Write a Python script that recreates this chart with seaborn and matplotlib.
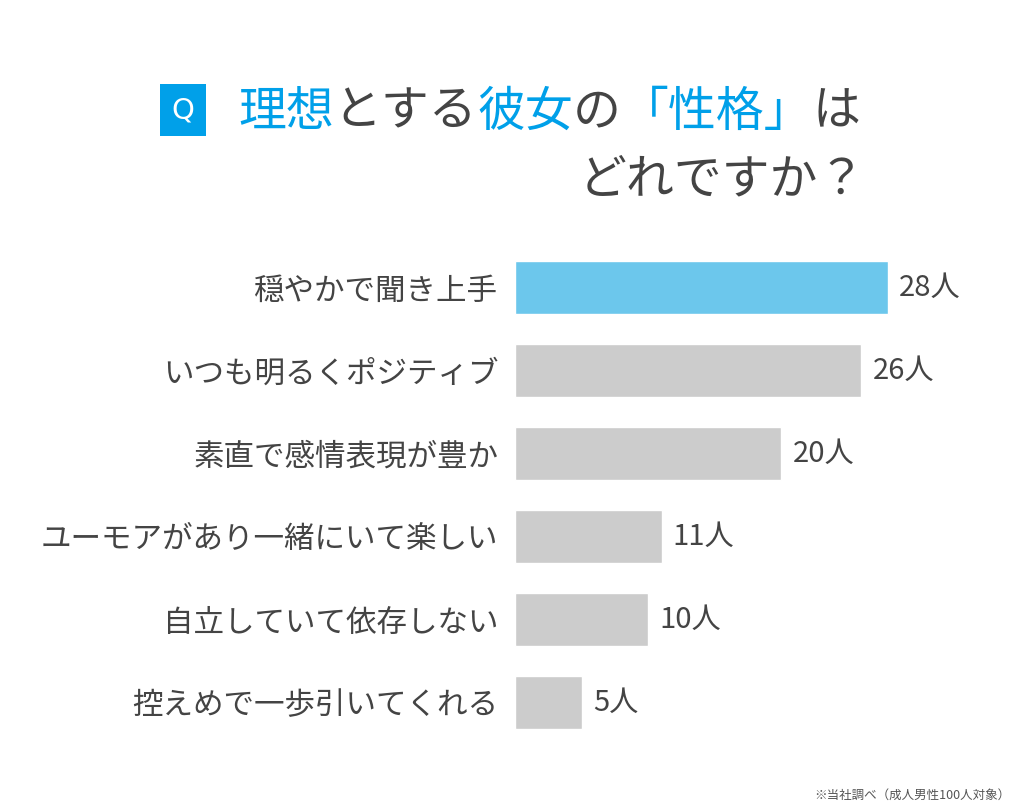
import seaborn as sns
import matplotlib.pyplot as plt
import matplotlib.patches as mpatches
import pandas as pd

# Survey data
traits = [
    "穏やかで聞き上手",
    "いつも明るくポジティブ",
    "素直で感情表現が豊か",
    "ユーモアがあり一緒にいて楽しい",
    "自立していて依存しない",
    "控えめで一歩引いてくれる",
]
counts = [28, 26, 20, 11, 10, 5]
value_labels = ["28人", "26人", "20人", "11人", "10人", "5人"]

title_parts = [("理想", "blue"), ("とする", "gray"), ("彼女", "blue"),
               ("の", "gray"), ("「性格」", "blue"), ("は", "gray")]
title_line2 = "どれですか？"
footnote = "※当社調べ（成人男性100人対象）"

BLUE = "#00A0E9"
BAR_BLUE = "#6CC7EC"
BAR_GRAY = "#CCCCCC"
TEXT = "#444444"

sns.set_theme(style="white")
plt.rcParams["font.family"] = ["Noto Sans CJK JP", "DejaVu Sans"]

df = pd.DataFrame({"trait": traits, "count": counts})
palette = [BAR_BLUE] + [BAR_GRAY] * (len(traits) - 1)

fig = plt.figure(figsize=(10.24, 8.09), dpi=100)
ax = fig.add_axes([515 / 1024, (809 - 744) / 809, 480 / 1024, 498 / 809])

sns.barplot(data=df, x="count", y="trait", hue="trait", palette=palette,
            legend=False, width=0.63, saturation=1, ax=ax)

ax.set_xlim(0, 36.04)
ax.set_ylim(5.5, -0.5)
ax.set_xlabel("")
ax.set_ylabel("")
ax.set_xticks([])
for s in ax.spines.values():
    s.set_visible(False)
ax.tick_params(axis="y", length=0, pad=12, labelsize=22, labelcolor=TEXT)

for i, (v, lab) in enumerate(zip(counts, value_labels)):
    ax.annotate(lab, xy=(v, i), xytext=(8, 0), textcoords="offset points",
                va="center", ha="left", fontsize=21, color=TEXT)

# "Q" box
fig.patches.append(mpatches.Rectangle((160 / 1024, 1 - 136 / 809), 46 / 1024, 52 / 809,
                                      transform=fig.transFigure, fc=BLUE, ec="none"))
fig.text(183 / 1024, 1 - 110 / 809, "Q", ha="center", va="center",
         fontsize=21, color="white", family=["DejaVu Sans"])

# title line 1: coloured pieces chained left to right
piece = fig.text(238 / 1024, 1 - 112 / 809, title_parts[0][0], ha="left",
                 va="center", fontsize=34.5, color=BLUE)
for txt, col in title_parts[1:]:
    c = BLUE if col == "blue" else TEXT
    piece = ax.annotate(txt, xy=(1, 0.5), xycoords=piece, ha="left",
                        va="center", fontsize=34.5, color=c,
                        annotation_clip=False)

fig.text(866 / 1024, 1 - 180 / 809, title_line2, ha="right", va="center",
         fontsize=34.5, color=TEXT)

fig.text(1010 / 1024, 1 - 795 / 809, footnote, ha="right", va="center",
         fontsize=9, color="#555555")

fig.savefig("out.png", dpi=100, facecolor="white")
